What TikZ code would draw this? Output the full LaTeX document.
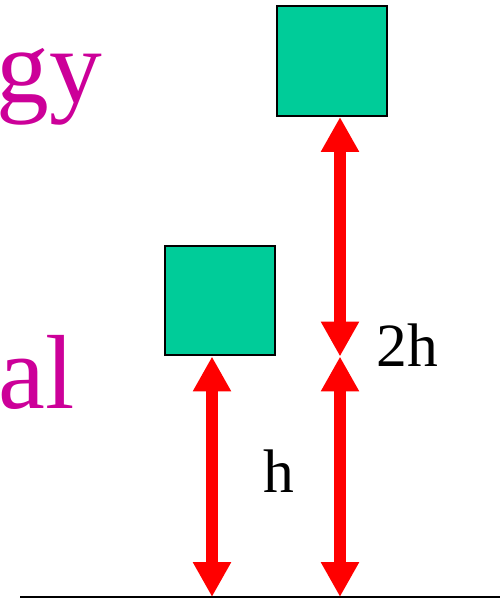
\documentclass[tikz,border=0pt]{standalone}
\usepackage{fontspec}
\setmainfont{Liberation Serif}
\usepackage{xcolor}
\usetikzlibrary{arrows.meta,positioning,calc}
\definecolor{boxgreen}{HTML}{00CC99}
\definecolor{wordpink}{HTML}{CC0099}

\begin{document}
\begin{tikzpicture}[
  x=0.02cm, y=-0.02cm,
  block/.style={rectangle, draw, line width=0.04cm, fill=boxgreen, minimum size=2.20cm, inner sep=0pt},
  height/.style={{Triangle[length=0.70cm, width=0.72cm]}-{Triangle[length=0.70cm, width=0.72cm]}, red, line width=0.25cm},
  word/.style={font=\fontsize{60}{60}\selectfont, text=wordpink, anchor=base west, inner sep=0pt},
  lab/.style={font=\fontsize{35}{35}\selectfont, anchor=base west, inner sep=0pt},
]
  \useasboundingbox (0,0) rectangle (500,599);

  % Words cut off at the left
  \node[word] (gy) at (-4,102) {gy};
  \node[word] (al) at (-2,408) {al};

  % Blocks
  \node[block] (high) at (332,61) {};
  \node[block] (low)  at (220,300.5) {};

  % Ground
  \coordinate (g0) at (20,597);
  \coordinate (g1) at (500,597);
  \draw[line width=0.04cm] (g0) -- (g1);

  % Heights
  \coordinate (lowfoot) at (212,597);
  \coordinate (lowtop)  at (low.south -| lowfoot);
  \coordinate (highfoot) at (340,597);
  \coordinate (mid)      at (340,356.5);
  \coordinate (hightop)  at (high.south -| highfoot);
  \draw[height] (lowfoot) -- (lowtop);
  \draw[height] (highfoot) -- (mid);
  \draw[height] (mid) -- (hightop);

  \node[lab] (h)  at (263,492) {h};
  \node[lab] (hh) at (376,366) {2h};
\end{tikzpicture}
\end{document}
